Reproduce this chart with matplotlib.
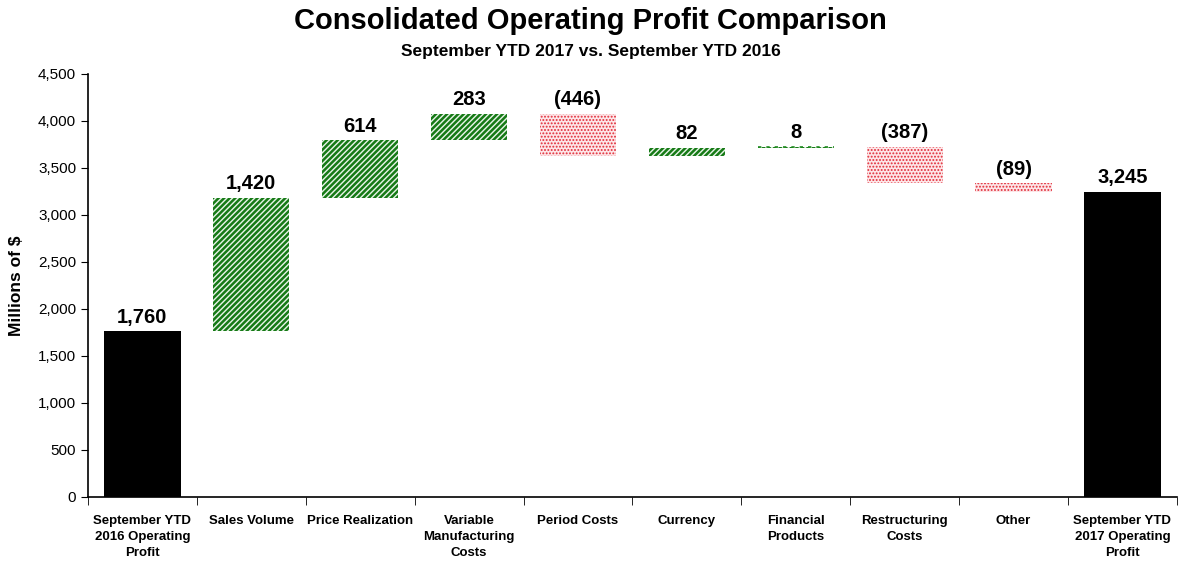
import matplotlib.pyplot as plt
from matplotlib.ticker import FuncFormatter, FixedLocator

plt.rcParams['font.family'] = ['Liberation Sans Narrow', 'Liberation Sans', 'DejaVu Sans']
plt.rcParams['hatch.linewidth'] = 1.8

# categories and changes
categories = ["September YTD\n2016 Operating\nProfit", "Sales Volume", "Price Realization",
              "Variable\nManufacturing\nCosts", "Period Costs", "Currency",
              "Financial\nProducts", "Restructuring\nCosts", "Other",
              "September YTD\n2017 Operating\nProfit"]
start_value = 1760
changes = [1420, 614, 283, -446, 82, 8, -387, -89]
end_value = 3245
value_labels = ["1,760", "1,420", "614", "283", "(446)", "82", "8", "(387)", "(89)", "3,245"]

fig = plt.figure(figsize=(11.81, 5.68), dpi=100)
ax = fig.add_axes([0.0745, 0.125, 0.922, 0.745])

bar_w = 0.7
# start total
ax.bar(0, start_value, width=bar_w, color='black')
running = start_value
tops = [start_value]
for i, c in enumerate(changes, start=1):
    if c >= 0:
        ax.bar(i, c, bottom=running, width=bar_w, facecolor='#e8f4e8',
               edgecolor='#167a16', hatch='//////', linewidth=0)
        top = running + c
    else:
        bars = ax.bar(i, -c, bottom=running + c, width=bar_w, facecolor='#fde6e8',
                      edgecolor='#e02a36', hatch='.....', linewidth=0)
        for b in bars:
            try:
                b.set_hatch_linewidth(0.9)
            except AttributeError:
                pass
        top = running
    if abs(c) < 20:
        ax.plot([i - bar_w / 2, i + bar_w / 2], [running + c, running + c],
                color='#1e8a1e', linestyle=(0, (2, 3)), lw=1.2)
    running += c
    tops.append(top)
ax.bar(len(categories) - 1, end_value, width=bar_w, color='black')
tops.append(end_value)

for i, (t, lab) in enumerate(zip(tops, value_labels)):
    ax.text(i, t + 50, lab, ha='center', va='bottom', fontsize=14.5, fontweight='bold')

ax.set_xlim(-0.5, len(categories) - 0.5)
ax.set_ylim(0, 4500)
ax.set_yticks(range(0, 4501, 500))
ax.yaxis.set_major_formatter(FuncFormatter(lambda v, p: f"{int(v):,}"))
ax.tick_params(axis='y', labelsize=11, direction='out', length=5)

ax.set_xticks(range(len(categories)))
ax.set_xticklabels(categories, fontsize=9.5, fontweight='bold', va='top', linespacing=1.45)
ax.tick_params(axis='x', length=0, pad=13)
ax.xaxis.set_minor_locator(FixedLocator([k - 0.5 for k in range(len(categories) + 1)]))
ax.tick_params(axis='x', which='minor', length=6, direction='out')

for s in ['top', 'right']:
    ax.spines[s].set_visible(False)
ax.spines['left'].set_linewidth(1.2)
ax.spines['bottom'].set_linewidth(1.2)

ax.set_ylabel("Millions of $", fontsize=12.5, fontweight='bold', labelpad=10)

fig.text(0.5, 0.963, "Consolidated Operating Profit Comparison", ha='center', va='center',
         fontsize=21, fontweight='bold')
fig.text(0.5, 0.91, "September YTD 2017 vs. September YTD 2016", ha='center', va='center',
         fontsize=12.5, fontweight='bold')

fig.savefig('out.png', dpi=100)
